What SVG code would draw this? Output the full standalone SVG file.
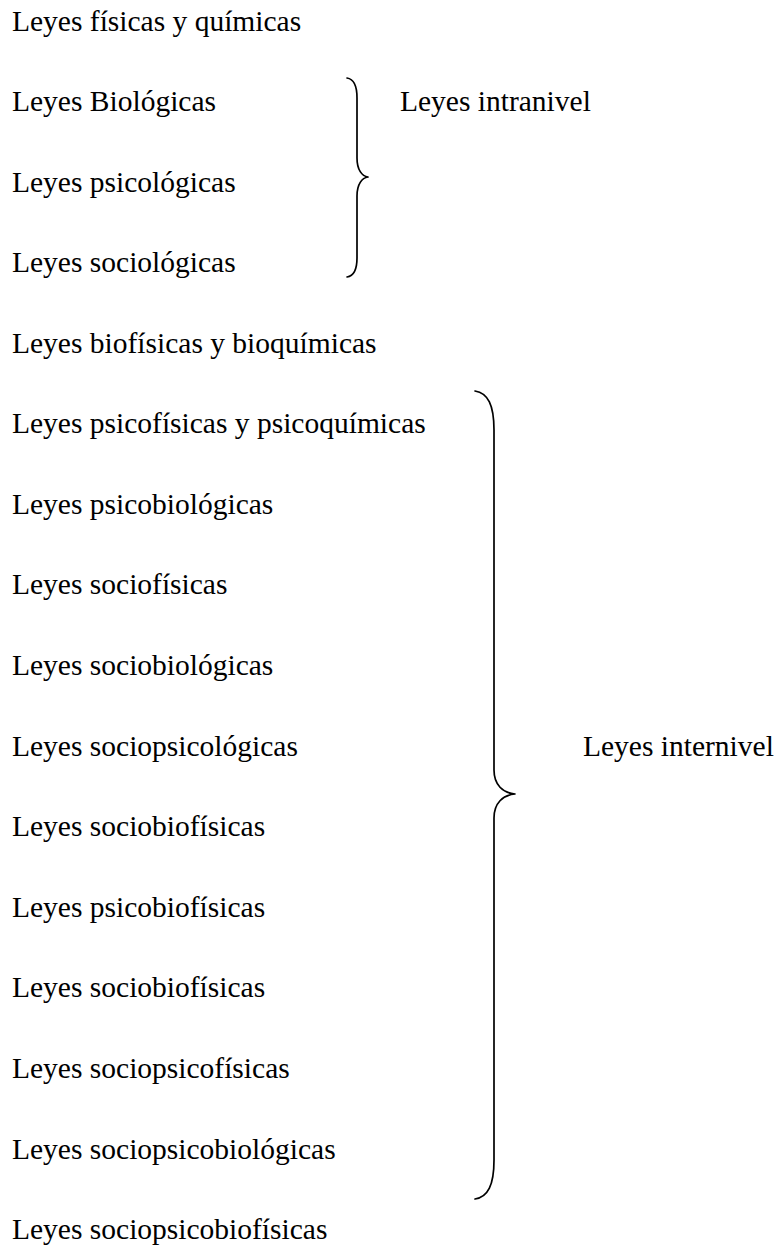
<svg xmlns="http://www.w3.org/2000/svg" width="781" height="1250" viewBox="0 0 781 1250">
<style>
text{font-family:"Liberation Serif","DejaVu Serif",serif;font-size:29.5px;fill:#000}
.brace{fill:none;stroke:#000;stroke-width:1.7;stroke-linecap:round;stroke-linejoin:round}
</style>
<rect width="781" height="1250" fill="#fff"/>
<g id="n1"><text x="12" y="31">Leyes físicas y químicas</text></g>
<g id="n2"><text x="12" y="111">Leyes Biológicas</text></g>
<g id="n3"><text x="12" y="192">Leyes psicológicas</text></g>
<g id="n4"><text x="12" y="272">Leyes sociológicas</text></g>
<g id="n5"><text x="12" y="353">Leyes biofísicas y bioquímicas</text></g>
<g id="n6"><text x="12" y="433">Leyes psicofísicas y psicoquímicas</text></g>
<g id="n7"><text x="12" y="514">Leyes psicobiológicas</text></g>
<g id="n8"><text x="12" y="594">Leyes sociofísicas</text></g>
<g id="n9"><text x="12" y="675">Leyes sociobiológicas</text></g>
<g id="n10"><text x="12" y="756">Leyes sociopsicológicas</text></g>
<g id="n11"><text x="12" y="836">Leyes sociobiofísicas</text></g>
<g id="n12"><text x="12" y="917">Leyes psicobiofísicas</text></g>
<g id="n13"><text x="12" y="997">Leyes sociobiofísicas</text></g>
<g id="n14"><text x="12" y="1078">Leyes sociopsicofísicas</text></g>
<g id="n15"><text x="12" y="1159">Leyes sociopsicobiológicas</text></g>
<g id="n16"><text x="12" y="1239">Leyes sociopsicobiofísicas</text></g>
<g id="intranivel"><text x="400" y="111">Leyes intranivel</text></g>
<g id="internivel"><text x="583" y="756">Leyes internivel</text></g>
<g id="connectors">
<path class="brace" d="M347,78 C354,79 357,85 357,98 L357,158 C357,170 362,176 368,177 C362,178 357,184 357,196 L357,258 C357,270 354,276 347,277"/>
<path class="brace" d="M475,391 C488,393 494,405 494,430 L494,770 C494,785 503,793 515,794 C503,795 494,803 494,818 L494,1160 C494,1185 488,1197 475,1199"/>
</g>
</svg>
